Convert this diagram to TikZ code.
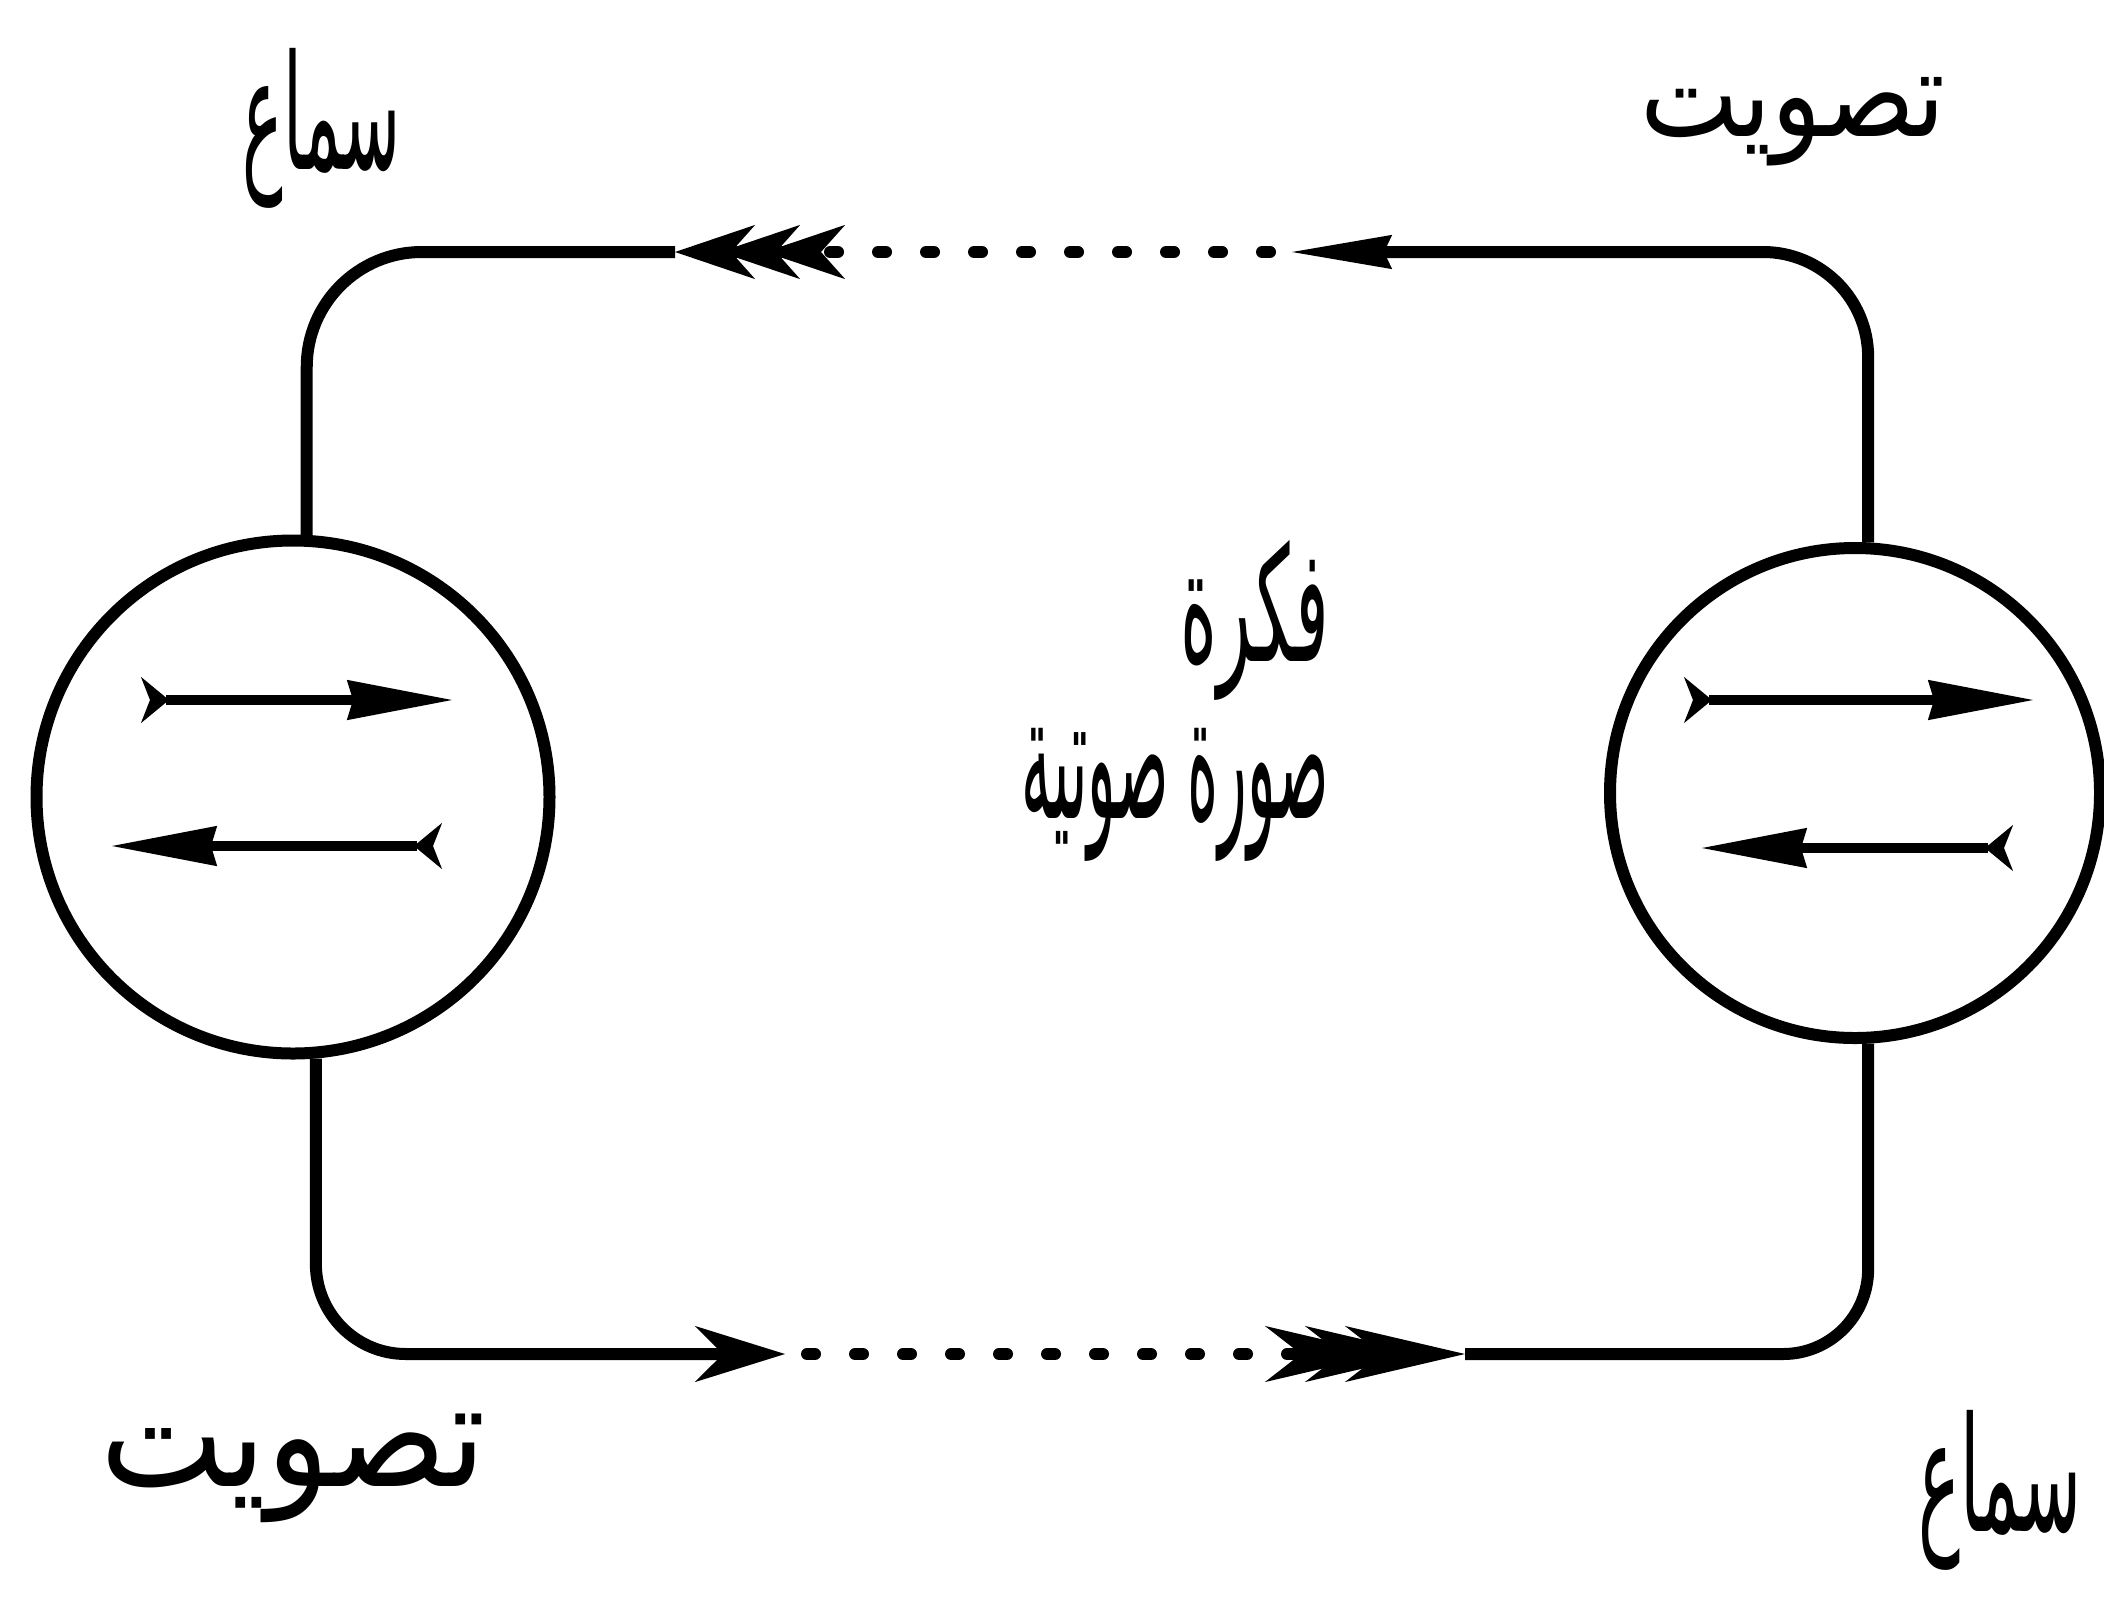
\documentclass[tikz,border=0pt]{standalone}
\usepackage{fontspec}
\newfontfamily\arabicfont[Script=Arabic]{DejaVu Sans}
\TeXXeTstate=1
\usetikzlibrary{arrows.meta}
\begin{document}
\begin{tikzpicture}[x=1pt,y=-1pt,
  ln/.style={line width=12pt,black},
  ring/.style={circle,draw,line width=12pt,inner sep=0pt},
  dotline/.style={line width=12pt,line cap=round,dash pattern=on 8pt off 40pt},
  lbl/.style={font=\arabicfont\fontsize{110}{130}\selectfont,inner sep=0pt},
  inarrow/.style={line width=10pt,
    {Stealth[reversed,length=28pt,width=46pt,inset=9pt,line width=3pt]}-{Stealth[length=105pt,width=40pt,inset=6pt,line width=2pt]}},
  spear/.style={-{Stealth[length=100pt,width=34pt,inset=8pt,line width=2pt]}},
  chevsingle/.style={-{Stealth[length=90pt,width=56pt,inset=28pt,line width=3pt]}},
  chevtop/.style={-{Stealth[length=80pt,width=54pt,inset=24pt,line width=3pt,sep=-35pt]
                    Stealth[length=80pt,width=54pt,inset=24pt,line width=3pt,sep=-35pt]
                    Stealth[length=80pt,width=54pt,inset=24pt,line width=3pt]}},
  chevbot/.style={-{Stealth[length=120pt,width=56pt,inset=36pt,line width=3pt,sep=-80pt]
                    Stealth[length=120pt,width=56pt,inset=36pt,line width=3pt,sep=-80pt]
                    Stealth[length=120pt,width=56pt,inset=36pt,line width=3pt]}}
]
\useasboundingbox (0,0) rectangle (2104,1612);
\fill[white] (0,0) rectangle (2104,1612);

% circles
\node[ring,minimum size=513pt] (L) at (293,797) {};
\node[ring,minimum size=490pt] (R) at (1855,793) {};

% arrow-tip coordinates on the connectors
\coordinate (tTR) at (1292,252);
\coordinate (tTL) at (675,252);
\coordinate (tBL) at (785,1354);
\coordinate (tBR) at (1465,1354);

% top connector (right to left)
\draw[ln,spear,rounded corners=105pt] (R.87) |- (tTR);
\draw[dotline,chevtop,shorten <=22pt] (tTR) -- (tTL);
\draw[ln,rounded corners=115pt] (tTL) -| (L.87);

% bottom connector (left to right)
\draw[ln,chevsingle,rounded corners=90pt] (L.-85) |- (tBL);
\draw[dotline,chevbot,shorten <=22pt] (tBL) -- (tBR);
\draw[ln,rounded corners=85pt] (tBR) -| (R.-87);

% arrows inside the circles
\coordinate (l1a) at (141,700);  \coordinate (l1b) at (452,700);
\coordinate (l2a) at (442,846);  \coordinate (l2b) at (112,846);
\coordinate (r1a) at (1684,700); \coordinate (r1b) at (2033,700);
\coordinate (r2a) at (2013,848); \coordinate (r2b) at (1702,848);
\draw[inarrow] (l1a) -- (l1b);
\draw[inarrow] (l2a) -- (l2b);
\draw[inarrow] (r1a) -- (r1b);
\draw[inarrow] (r2a) -- (r2b);

% labels
\node[lbl] (tl) at (322,128) {\scalebox{0.62}[1.45]{\beginR سماع\endR}};
\node[lbl] (tr) at (1793,122) {\scalebox{0.95}[1.1]{\beginR تصويت\endR}};
\node[lbl] (bl) at (293,1468) {\scalebox{1.2}[1.35]{\beginR تصويت\endR}};
\node[lbl] (br) at (2000,1490) {\scalebox{0.64}[1.45]{\beginR سماع\endR}};
\node[lbl,anchor=east] (c1) at (1329,620) {\scalebox{0.64}[1.45]{\beginR فكرة\endR}};
\node[lbl,anchor=east] (c2) at (1329,795) {\scalebox{0.54}[1.6]{\beginR صورة صوتية\endR}};
\end{tikzpicture}
\end{document}
